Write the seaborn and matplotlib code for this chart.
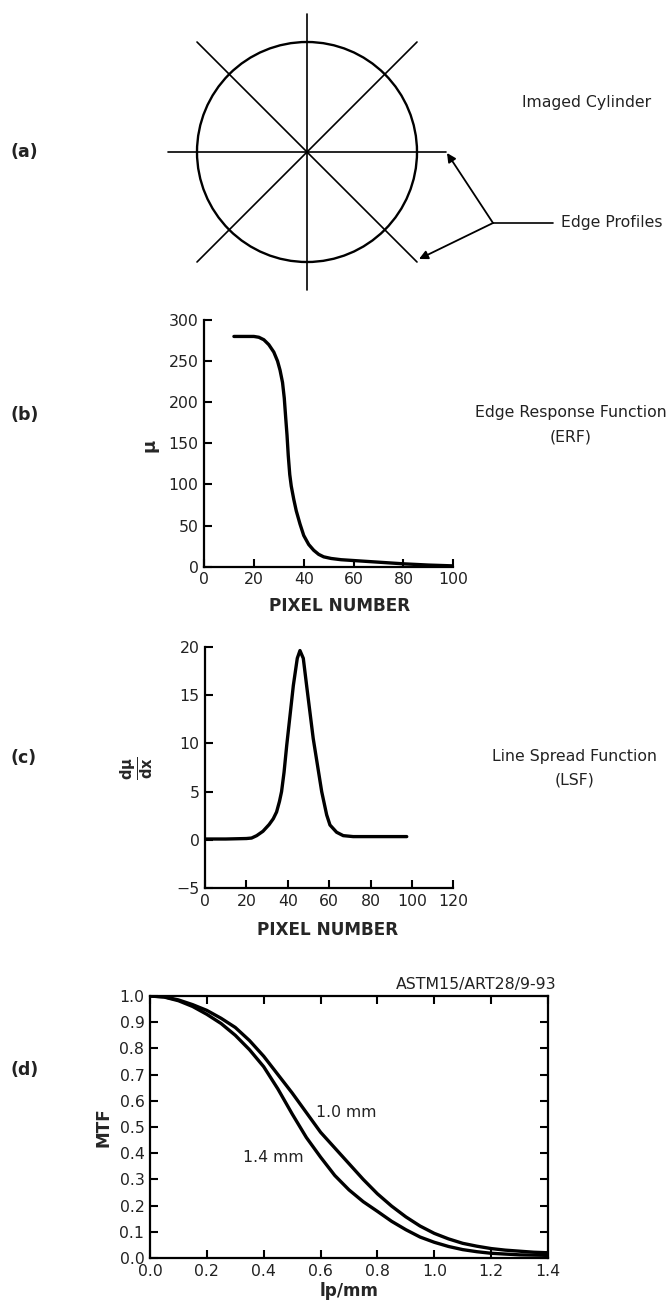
import pandas as pd
import matplotlib
matplotlib.use("Agg")
import matplotlib.pyplot as plt
import seaborn as sns
from matplotlib.patches import Circle
from matplotlib.ticker import FormatStrFormatter

W, H = 670, 1302

# (b) Edge response function
erf_pixel = [12, 20, 22, 24, 26, 28, 29.5, 30.5, 31.5, 32.2, 32.8, 33.3, 33.8,
             34.4, 35, 36, 37, 38.5, 40, 42, 44, 46, 48, 51, 55, 60, 70, 80, 90, 100]
erf_mu = [280, 280, 279, 276, 270, 261, 250, 239, 224, 205, 180, 160, 135,
          112, 98, 82, 68, 52, 38, 27, 20, 15, 12, 10, 8.5, 7.5, 5.5, 3.5, 2, 1]

# (c) Line spread function
lsf_pixel = [0, 10, 20, 22.5, 25, 28, 31, 33, 34.6, 36, 37, 38.2, 39.5, 42.7,
             44.6, 45.9, 47.5, 49.1, 52.3, 56.4, 58.8, 60.4, 63.6, 66.8, 71.6,
             80, 90, 97.5]
lsf_dmu = [0.1, 0.1, 0.15, 0.2, 0.45, 0.9, 1.6, 2.2, 2.9, 4.0, 5.0, 7.0, 9.8, 16,
           18.8, 19.6, 18.8, 16, 10.5, 5.0, 2.6, 1.55, 0.8, 0.45, 0.35,
           0.35, 0.35, 0.35]

# (d) MTF for the two cylinder sizes
mtf_freq = [0.0, 0.05, 0.1, 0.15, 0.2, 0.25, 0.3, 0.35, 0.4, 0.45, 0.5, 0.55,
            0.6, 0.65, 0.7, 0.75, 0.8, 0.85, 0.9, 0.95, 1.0, 1.05, 1.1, 1.15,
            1.2, 1.25, 1.3, 1.35, 1.4]
mtf_10mm = [1.0, 0.997, 0.985, 0.967, 0.945, 0.915, 0.88, 0.83, 0.77, 0.70,
            0.63, 0.555, 0.48, 0.42, 0.36, 0.30, 0.245, 0.198, 0.157, 0.122,
            0.094, 0.073, 0.056, 0.045, 0.036, 0.03, 0.026, 0.022, 0.02]
mtf_14mm = [1.0, 0.996, 0.982, 0.96, 0.93, 0.895, 0.85, 0.795, 0.73, 0.645,
            0.55, 0.46, 0.385, 0.315, 0.26, 0.215, 0.178, 0.14, 0.108, 0.08,
            0.06, 0.044, 0.032, 0.024, 0.018, 0.015, 0.012, 0.011, 0.01]

sns.set_theme(style="ticks")
plt.rcParams["font.family"] = ["DejaVu Sans"]
plt.rcParams["mathtext.fontset"] = "dejavusans"
plt.rcParams["text.color"] = "#222222"

fig = plt.figure(figsize=(W / 100, H / 100), dpi=100)

TICK = 11.3
LW_AX = 1.6
LW_CURVE = 2.4


def px_axes(box):
    l, t, r, b = box
    return fig.add_axes([l / W, 1 - b / H, (r - l) / W, (b - t) / H])


def frac(box, x, y):
    l, t, r, b = box
    return (x - l) / (r - l), (b - y) / (b - t)


def style_axes(ax, box_all=False):
    if not box_all:
        sns.despine(ax=ax)
    for s in ax.spines.values():
        s.set_linewidth(LW_AX)
        s.set_color("black")
    ax.set_facecolor("none")
    ax.tick_params(direction="in", length=6, width=1.5, labelsize=TICK,
                   pad=4, color="black", labelcolor="#222222",
                   top=box_all, right=box_all)


# background axes in pixel units for the sketch and the free text
bg = fig.add_axes([0, 0, 1, 1])
bg.set_xlim(0, W)
bg.set_ylim(H, 0)
bg.axis("off")

# ---- (a) imaged cylinder with edge profiles
cx, cy, r = 307, 152, 110
bg.add_patch(Circle((cx, cy), r, fill=False, lw=1.7, color="black"))
bg.plot([168, 446], [cy, cy], color="black", lw=1.2)
bg.plot([cx, cx], [14, 290], color="black", lw=1.2)
bg.plot([cx - r, cx + r], [cy - r, cy + r], color="black", lw=1.2)
bg.plot([cx + r, cx - r], [cy - r, cy + r], color="black", lw=1.2)
junction = (493, 223)
bg.plot([junction[0], 553], [junction[1], junction[1]], color="black", lw=1.2)
for tip in [(447, 153), (419, 259)]:
    bg.annotate("", xy=tip, xytext=junction,
                arrowprops=dict(arrowstyle="-|>", lw=1.3, color="black",
                                mutation_scale=13, shrinkA=0, shrinkB=0))
bg.text(522, 102, "Imaged Cylinder", fontsize=TICK, va="center")
bg.text(561, 223, "Edge Profiles", fontsize=TICK, va="center")

panel_kw = dict(fontsize=12.5, fontweight="bold", va="center")
bg.text(10, 152, "(a)", **panel_kw)
bg.text(10, 415, "(b)", **panel_kw)
bg.text(10, 758, "(c)", **panel_kw)
bg.text(10, 1070, "(d)", **panel_kw)

bg.text(571, 413, "Edge Response Function", fontsize=TICK, ha="center", va="center")
bg.text(571, 437, "(ERF)", fontsize=TICK, ha="center", va="center")
bg.text(575, 757, "Line Spread Function", fontsize=TICK, ha="center", va="center")
bg.text(575, 780, "(LSF)", fontsize=TICK, ha="center", va="center")

# ---- (b) ERF
box_b = (204, 320, 453.3, 566.7)
ax_b = px_axes(box_b)
sns.lineplot(data=pd.DataFrame({"pixel": erf_pixel, "mu": erf_mu}),
             x="pixel", y="mu", ax=ax_b, color="black", lw=LW_CURVE)
ax_b.set_xlim(0, 100)
ax_b.set_ylim(0, 300)
ax_b.set_xticks(range(0, 101, 20))
ax_b.set_yticks(range(0, 301, 50))
style_axes(ax_b)
ax_b.set_xlabel("PIXEL NUMBER", fontsize=12.2, fontweight="bold", va="center")
ax_b.xaxis.set_label_coords(*frac(box_b, 340, 606))
ax_b.set_ylabel("μ", fontsize=13, fontweight="bold", va="center")
ax_b.yaxis.set_label_coords(*frac(box_b, 150, 445))

# ---- (c) LSF
box_c = (205, 646.7, 453.3, 888.3)
ax_c = px_axes(box_c)
sns.lineplot(data=pd.DataFrame({"pixel": lsf_pixel, "dmu": lsf_dmu}),
             x="pixel", y="dmu", ax=ax_c, color="black", lw=LW_CURVE)
ax_c.set_xlim(0, 120)
ax_c.set_ylim(-5, 20)
ax_c.set_xticks(range(0, 121, 20))
ax_c.set_yticks(range(-5, 21, 5))
style_axes(ax_c)
ax_c.set_xlabel("PIXEL NUMBER", fontsize=12.2, fontweight="bold", va="center")
ax_c.xaxis.set_label_coords(*frac(box_c, 328, 930))
ax_c.set_ylabel(r"$\mathbf{\frac{d\mu}{dx}}$", fontsize=15, va="center")
ax_c.yaxis.set_label_coords(*frac(box_c, 137, 768))

# ---- (d) MTF
box_d = (150, 996, 548, 1258)
ax_d = px_axes(box_d)
mtf = pd.DataFrame({
    "lp/mm": mtf_freq * 2,
    "MTF": mtf_10mm + mtf_14mm,
    "size": ["1.0 mm"] * len(mtf_freq) + ["1.4 mm"] * len(mtf_freq),
})
sns.lineplot(data=mtf, x="lp/mm", y="MTF", hue="size", palette=["black", "black"],
             legend=False, ax=ax_d, lw=LW_CURVE)
ax_d.set_xlim(0, 1.4)
ax_d.set_ylim(0, 1.0)
ax_d.set_xticks([i / 10 for i in range(0, 15, 2)])
ax_d.set_yticks([i / 10 for i in range(0, 11)])
ax_d.xaxis.set_major_formatter(FormatStrFormatter("%.1f"))
ax_d.yaxis.set_major_formatter(FormatStrFormatter("%.1f"))
style_axes(ax_d, box_all=True)
ax_d.set_xlabel("lp/mm", fontsize=12.2, fontweight="bold", va="center")
ax_d.xaxis.set_label_coords(*frac(box_d, 349, 1291))
ax_d.set_ylabel("MTF", fontsize=12.2, fontweight="bold", va="center")
ax_d.yaxis.set_label_coords(*frac(box_d, 103, 1127))
ax_d.text(0.584, 0.557, "1.0 mm", fontsize=TICK, va="center")
ax_d.text(0.327, 0.385, "1.4 mm", fontsize=TICK, va="center")
bg.text(396, 985, "ASTM15/ART28/9-93", fontsize=TICK, va="center")

fig.savefig("out.png", dpi=100)
